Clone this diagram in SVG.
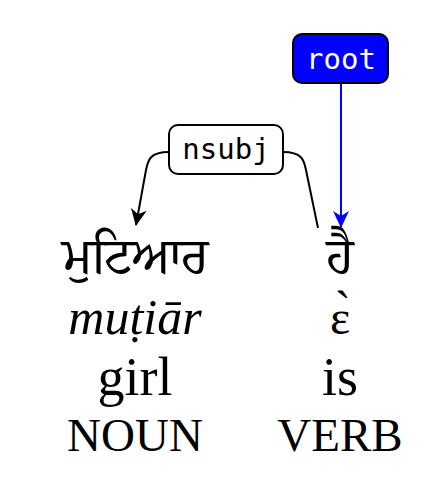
<svg xmlns="http://www.w3.org/2000/svg" width="442" height="482" viewBox="0 0 442 482">
<style>
.lbl{font-family:"DejaVu Sans Mono","Liberation Mono",monospace;font-size:29px;text-anchor:middle}
.w{font-family:"Liberation Serif","DejaVu Serif",serif;text-anchor:middle;fill:#000}
.g{font-family:"Noto Serif Gurmukhi","Noto Sans Gurmukhi","Liberation Serif",serif;font-size:50px;text-anchor:middle}
.edge{fill:none;stroke:#000;stroke-width:2}
</style>
<defs>
<marker id="ab" viewBox="0 0 18 16" refX="16" refY="8" markerWidth="18" markerHeight="16" markerUnits="userSpaceOnUse" orient="auto">
<path d="M0,0 L17,8 L0,16 L5,8 z" fill="#000"/>
</marker>
<marker id="ablue" viewBox="0 0 18 16" refX="16" refY="8" markerWidth="18" markerHeight="16" markerUnits="userSpaceOnUse" orient="auto">
<path d="M0,0 L17,8 L0,16 L5,8 z" fill="#00f"/>
</marker>
</defs>
<g id="connectors">
<path class="edge" d="M169,152 C150,152 148,160 146,170 L136,225" marker-end="url(#ab)"/>
<path class="edge" d="M283,152 C302,152 304,160 306,170 L318,228"/>
<path fill="none" stroke="#00f" stroke-width="2" d="M341,83 L341,227" marker-end="url(#ablue)"/>
</g>
<g id="root">
<rect x="293" y="34" width="95" height="49" rx="9" fill="#00f" stroke="#000" stroke-width="2"/>
<text class="lbl" x="341" y="69" fill="#fff">root</text>
</g>
<g id="nsubj">
<rect x="169" y="125" width="114" height="49" rx="9" fill="#fff" stroke="#000" stroke-width="2"/>
<text class="lbl" x="226" y="159">nsubj</text>
</g>
<g id="w1">
<text class="g" x="135" y="273">ਮੁਟਿਆਰ</text>
<text class="w" x="135" y="334" font-size="50" font-style="italic">muṭiār</text>
<text class="w" x="135" y="395" font-size="54">girl</text>
<text class="w" x="135" y="451" font-size="47">NOUN</text>
</g>
<g id="w2">
<text class="g" x="340" y="273">ਹੈ</text>
<text class="w" x="340" y="334" font-size="48" font-family="DejaVu Serif">ɛ̀</text>
<text class="w" x="340" y="395" font-size="54">is</text>
<text class="w" x="340" y="451" font-size="47">VERB</text>
</g>
</svg>
